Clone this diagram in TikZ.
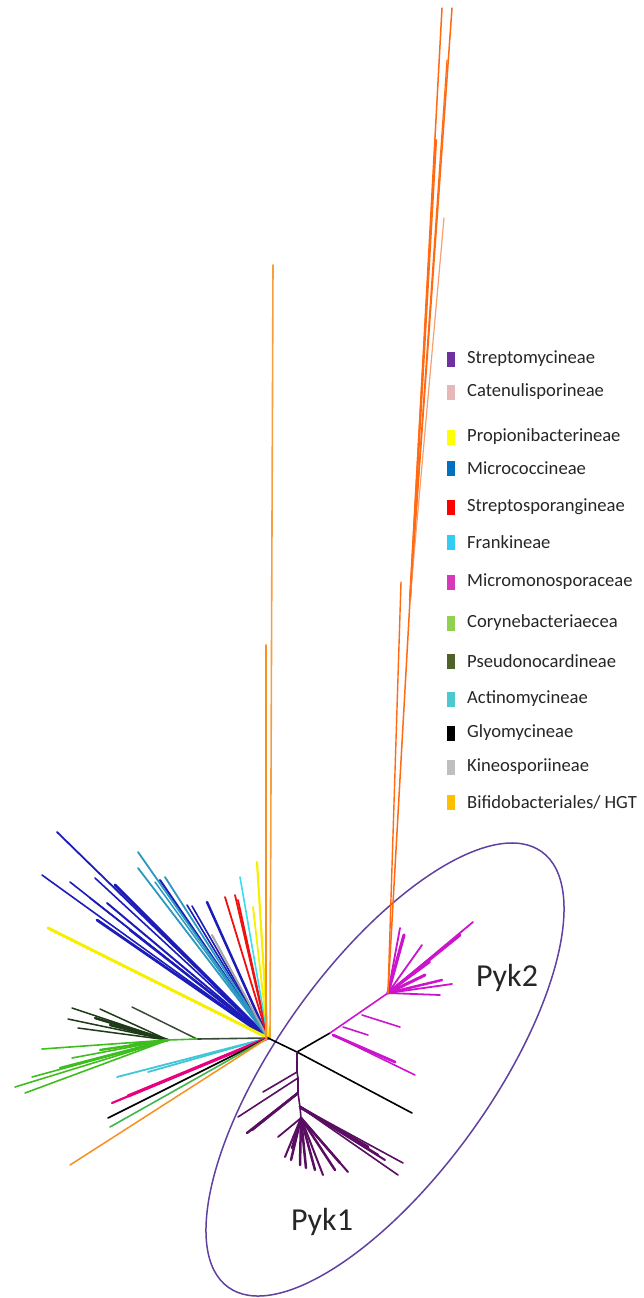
\documentclass[tikz,border=0pt]{standalone}
\usepackage{fontspec}
\setmainfont{Carlito}
\definecolor{cblue}{HTML}{1C1CB8}
\definecolor{cteal}{HTML}{2A98C0}
\definecolor{cgray}{HTML}{A6A6A6}
\definecolor{cred}{HTML}{F01010}
\definecolor{clcyan}{HTML}{38DDF0}
\definecolor{cyel}{HTML}{F5F000}
\definecolor{corL}{HTML}{F4A040}
\definecolor{corM}{HTML}{F7901E}
\definecolor{corR}{HTML}{FF6A13}
\definecolor{corP}{HTML}{F5A070}
\definecolor{cdkgr}{HTML}{1E3A18}
\definecolor{cdkline}{HTML}{3A4A3A}
\definecolor{cgreen}{HTML}{3DBE1E}
\definecolor{ccyan}{HTML}{40C6D6}
\definecolor{cpink}{HTML}{E8007F}
\definecolor{cgreen2}{HTML}{3CB84A}
\definecolor{cmag}{HTML}{CC14CC}
\definecolor{cpur}{HTML}{5A0E62}
\definecolor{cell}{HTML}{6040A0}
\definecolor{lStrep}{HTML}{7030A0}
\definecolor{lCaten}{HTML}{E6B9B8}
\definecolor{lProp}{HTML}{FFFF00}
\definecolor{lMicro}{HTML}{0070C0}
\definecolor{lStsp}{HTML}{FF0000}
\definecolor{lFrank}{HTML}{33CCF5}
\definecolor{lMmono}{HTML}{D63AB8}
\definecolor{lCory}{HTML}{92D050}
\definecolor{lPseu}{HTML}{4F6228}
\definecolor{lActi}{HTML}{4BC8D0}
\definecolor{lGlyo}{HTML}{000000}
\definecolor{lKine}{HTML}{BFBFBF}
\definecolor{lBifi}{HTML}{FFC000}
\begin{document}
\begin{tikzpicture}[x=1pt,y=-1pt,line cap=round,
  legsq/.style={minimum width=8pt,minimum height=15pt,inner sep=0pt,draw=none},
  legtxt/.style={anchor=west,inner sep=0pt,font=\fontsize{18.6}{21}\selectfont,text=black!85},
  pyklabel/.style={font=\fontsize{32}{36}\selectfont,text=black!85}]
\useasboundingbox (0,0) rectangle (644,1298);

% internal nodes
\coordinate (R) at (268,1038);
\coordinate (H1) at (197,1039);
\coordinate (G) at (168,1040);
\coordinate (N1) at (297,1052);
\coordinate (N2) at (330,1033);
\coordinate (P2) at (388,993);
\coordinate (Q1) at (297,1072);
\coordinate (Q2) at (298,1078);
\coordinate (Q3) at (298,1093);
\coordinate (Q4) at (300,1107);
\coordinate (F) at (301,1118);
\coordinate (M1) at (343,1027);
\coordinate (M2) at (362,1015);
\coordinate (M3) at (333,1035);
\coordinate (OB) at (410,600);

% ellipse
\draw[cell,line width=1.5pt,rotate around={54.25:(385,1069.5)}] (385,1069.5) ellipse [x radius=268.3pt,y radius=106.5pt];

% blue clade
\foreach \x/\y/\w [count=\i] in {57/832/1.8,115/885/3,42/875/1.6,70/882/1.6,95/878/1.6,90/898/1.6,107/903/2,97/920/2.8,130/930/2.4,160/880/2,187/905/1.6,192/906/1.6,207/902/2.5}{
  \coordinate (bl\i) at (\x,\y);
  \draw[cblue,line width=\w pt] (R) -- (bl\i);
}
% teal
\foreach \x/\y/\w [count=\i] in {138/852/1.8,138/868/1.8,165/877/1.8,155/882/1.5}{
  \coordinate (te\i) at (\x,\y);
  \draw[cteal,line width=\w pt] (R) -- (te\i);
}
\coordinate (gr1) at (212,935);
\draw[cgray,line width=2pt] (R) -- (gr1);
\foreach \x/\y [count=\i] in {225/897,235/895,238/900}{
  \coordinate (rd\i) at (\x,\y);
  \draw[cred,line width=1.8pt] (R) -- (rd\i);
}
\coordinate (lc1) at (240,877);
\draw[clcyan,line width=1.6pt] (R) -- (lc1);
\foreach \x/\y/\w [count=\i] in {257/862/2.2,253/907/1.8,48/928/3}{
  \coordinate (ye\i) at (\x,\y);
  \draw[cyel,line width=\w pt] (R) -- (ye\i);
}

% lower-left clades
\draw[cdkline,line width=1.6pt] (R) -- (H1);
\coordinate (dk0) at (132,1007);
\draw[cdkline,line width=1.5pt] (H1) -- (dk0);
\draw[cgreen,line width=1.6pt] (H1) -- (G);
\foreach \x/\y/\w [count=\i] in {72/1008/1.5,68/1019/1.5,78/1028/1.5,100/1009/1.5,95/1018/2.5,110/1025/2.5}{
  \coordinate (dg\i) at (\x,\y);
  \draw[cdkgr,line width=\w pt] (G) -- (dg\i);
}
\foreach \x/\y/\w [count=\i] in {42/1049/1.6,72/1058/1.6,32/1077/1.6,15/1087/1.6,25/1093/1.6,60/1068/2.4,100/1050/2.4,130/1045/2.5}{
  \coordinate (gn\i) at (\x,\y);
  \draw[cgreen,line width=\w pt] (G) -- (gn\i);
}
\foreach \x/\y [count=\i] in {117/1077,148/1072}{
  \coordinate (cy\i) at (\x,\y);
  \draw[ccyan,line width=1.8pt] (R) -- (cy\i);
}
\coordinate (pk1) at (112,1103);
\coordinate (pk2) at (128,1096);
\draw[cpink,line width=2.2pt] (R) -- (pk1);
\draw[cpink,line width=3.2pt] (R) -- (pk2);
\coordinate (bk1) at (108,1118);
\draw[black,line width=1.6pt] (R) -- (bk1);
\coordinate (gg1) at (110,1127);
\draw[cgreen2,line width=1.6pt] (R) -- (gg1);
\coordinate (or1) at (70,1165);
\draw[corM,line width=1.5pt] (R) -- (or1);

% long orange verticals at root
\coordinate (ov1) at (273,265);
\coordinate (ov2) at (266,645);
\coordinate (R1) at (270,1038);
\coordinate (R2) at (266,1038);
\draw[corL,line width=1.6pt] (R1) -- (ov1);
\draw[corM,line width=1.8pt] (R2) -- (ov2);

% Pyk backbone
\draw[black,line width=1.6pt] (R) -- (N1);
\coordinate (bkt) at (412,1113);
\draw[black,line width=1.6pt] (N1) -- (bkt);
\draw[black,line width=1.6pt] (N1) -- (N2);
\draw[cmag,line width=1.6pt] (N2) -- (P2);

% Pyk2 side branches
\coordinate (ms1) at (415,1075);
\coordinate (ms1b) at (395,1062);
\coordinate (ms2) at (368,1035);
\coordinate (ms3) at (400,1027);
\draw[cmag,line width=1.6pt] (M3) -- (ms1);
\draw[cmag,line width=2.8pt] (M3) -- (ms1b);
\draw[cmag,line width=1.6pt] (M1) -- (ms2);
\draw[cmag,line width=1.6pt] (M2) -- (ms3);

% Pyk2 fan
\foreach \x/\y/\w [count=\i] in {473/922/1.8,460/935/3,400/928/1.8,404/935/3.2,422/945/1.8,430/962/2,452/984/1.8,440/995/1.8,442/980/2.5,425/975/3}{
  \coordinate (mf\i) at (\x,\y);
  \draw[cmag,line width=\w pt] (P2) -- (mf\i);
}

% orange upper-right clade
\coordinate (ou0) at (401,582);
\draw[corR,line width=1.4pt] (P2) -- (ou0);
\draw[corR,line width=1.5pt] (P2) -- (OB);
\foreach \x/\y/\w/\c [count=\i] in {442/8/1.5/corR,452/8/1.5/corR,436/140/2.2/corR,444/218/1.2/corP,447/60/1.2/corR}{
  \coordinate (ou\i) at (\x,\y);
  \draw[\c,line width=\w pt] (OB) -- (ou\i);
}

% Pyk1
\draw[cpur,line width=1.6pt] (N1) -- (Q1) -- (Q2) -- (Q3) -- (Q4) -- (F);
\coordinate (pa1) at (263,1092);
\coordinate (pa2) at (238,1117);
\draw[cpur,line width=1.6pt] (Q1) -- (pa1);
\draw[cpur,line width=1.6pt] (Q2) -- (pa2);
\foreach \x/\y/\w [count=\i] in {247/1133/2.5,252/1130/2.5,256/1126/2}{
  \coordinate (pb\i) at (\x,\y);
  \draw[cpur,line width=\w pt] (Q3) -- (pb\i);
}
\foreach \x/\y/\w [count=\i] in {403/1163/1.6,398/1175/1.6,368/1147/3,378/1155/2.5,385/1160/2}{
  \coordinate (pc\i) at (\x,\y);
  \draw[cpur,line width=\w pt] (Q4) -- (pc\i);
}
\foreach \x/\y/\w [count=\i] in {278/1137/1.8,285/1157/2,291/1160/2.5,300/1165/2.5,306/1168/2.5,315/1170/2.5,323/1175/2,335/1170/2.5,348/1172/2,340/1163/2.5,292/1148/2.5}{
  \coordinate (pd\i) at (\x,\y);
  \draw[cpur,line width=\w pt] (F) -- (pd\i);
}

% labels
\node[pyklabel] (pyk2) at (507,978) {Pyk2};
\node[pyklabel] (pyk1) at (322,1222) {Pyk1};

% legend
\foreach \y/\c/\t [count=\i] in {359/lStrep/Streptomycineae,392/lCaten/Catenulisporineae,437/lProp/Propionibacterineae,468/lMicro/Micrococcineae,507/lStsp/Streptosporangineae,542/lFrank/Frankineae,582/lMmono/Micromonosporaceae,623/lCory/Corynebacteriaecea,661/lPseu/Pseudonocardineae,699/lActi/Actinomycineae,733/lGlyo/Glyomycineae,767/lKine/Kineosporiineae}{
  \node[legsq,fill=\c] (sq\i) at (451,\y) {};
  \node[legtxt] (lt\i) at (467,\y) {\t};
}
\node[legsq,fill=lBifi] (sq13) at (451,802) {};
\node[legtxt] (lt13) at (467,802) {Bifidobacteriales/ HGT};
\end{tikzpicture}
\end{document}
